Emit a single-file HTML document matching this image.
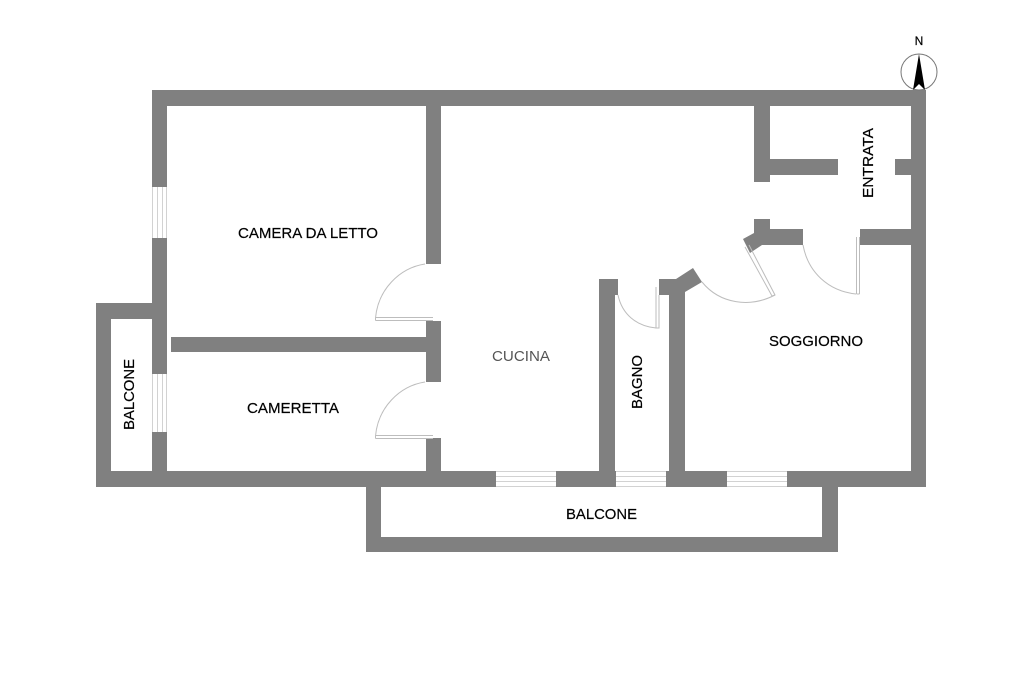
<!DOCTYPE html>
<html><head><meta charset="utf-8"><style>
html,body{margin:0;padding:0;background:#fff}
svg{display:block;filter:blur(0.35px)}
text{font-family:"Liberation Sans",sans-serif;fill:#000;font-size:15px;stroke:#000;stroke-width:.2px}
</style></head><body>
<svg width="1024" height="682" viewBox="0 0 1024 682" xmlns="http://www.w3.org/2000/svg">
<rect width="1024" height="682" fill="#fff"/>
<g fill="#808080">
<rect x="152" y="90" width="774" height="16"/>
<rect x="911" y="90" width="15" height="397"/>
<rect x="152" y="90" width="15" height="97"/>
<rect x="152" y="238" width="15" height="136"/>
<rect x="152" y="432" width="15" height="55"/>
<rect x="96" y="303" width="15" height="184"/>
<rect x="96" y="303" width="71" height="16"/>
<rect x="96" y="471" width="400" height="16"/>
<rect x="556" y="471" width="60" height="16"/>
<rect x="666" y="471" width="61" height="16"/>
<rect x="787" y="471" width="139" height="16"/>
<rect x="426" y="90" width="15" height="174"/>
<rect x="426" y="321" width="15" height="61"/>
<rect x="426" y="438" width="15" height="40"/>
<rect x="171" y="337" width="256" height="15"/>
<rect x="754" y="100" width="16" height="82"/>
<rect x="754" y="159" width="84" height="16"/>
<rect x="895" y="159" width="20" height="16"/>
<rect x="860" y="229" width="55" height="16"/>
<polygon points="599,279 618,279 618,295 615,295 615,475 599,475"/>
<polygon points="659,279 676,279 693,268 702,282 685,292 685,475 669,475 669,295 659,295"/>
<polygon points="754,219 770,219 770,229 803,229 803,245 762,245 750,253 743,239 754,233"/>
<rect x="366" y="485" width="15" height="67"/>
<rect x="822" y="485" width="16" height="67"/>
<rect x="366" y="537" width="472" height="15"/>
</g>
<g fill="none" stroke="#d2d2d2" stroke-width="1">
<path d="M157.500 187V238M162.500 187V238M152.500 187V238M166.500 187V238"/>
<path d="M157.500 374V432M162.500 374V432M152.500 374V432M166.500 374V432"/>
<path d="M496 471.500H556M496 476.500H556M496 481.500H556M496 486.500H556"/>
<path d="M616 471.500H666M616 476.500H666M616 481.500H666M616 486.500H666"/>
<path d="M727 471.500H787M727 476.500H787M727 481.500H787M727 486.500H787"/>
</g>
<g fill="none" stroke="#bdbdbd" stroke-width="1">
<path d="M375.500 317.500H433M375.500 320.500H433M375.500 317.500V320.500"/>
<path d="M375.500 318C378 290 399 268 425 264"/>
<path d="M375.500 435.500H433M375.500 438.500H433M375.500 435.500V438.500"/>
<path d="M375.500 436C378 408 399 386 425 382"/>
<path d="M745 247L772 296L775 295L749 245"/>
<path d="M702 282C720 304 750 308 775 295"/>
<path d="M856.500 237V294M859.500 237V294M856.500 294H859.500"/>
<path d="M803 245C808 272 828 291 856 294"/>
<path d="M656 287V328H659V295"/>
<path d="M618 295C622 314 636 326 656 328"/>
</g>
<circle cx="919" cy="72" r="18" fill="#fff" stroke="#777" stroke-width="1"/>
<polygon points="919,54 922,72 925,90 919,84 913,90 916,72" fill="#000"/>
<text x="919" y="45" text-anchor="middle" style="font-size:12px">N</text>
<text x="238" y="238" textLength="140" lengthAdjust="spacingAndGlyphs">CAMERA DA LETTO</text>
<text x="247" y="413" textLength="92" lengthAdjust="spacingAndGlyphs">CAMERETTA</text>
<text x="492" y="361" textLength="58" lengthAdjust="spacingAndGlyphs" style="fill:#555;stroke:none">CUCINA</text>
<text x="769" y="346" textLength="94" lengthAdjust="spacingAndGlyphs">SOGGIORNO</text>
<text x="566" y="519" textLength="71" lengthAdjust="spacingAndGlyphs">BALCONE</text>
<text transform="translate(134,430) rotate(-90)" textLength="71" lengthAdjust="spacingAndGlyphs">BALCONE</text>
<text transform="translate(642,409) rotate(-90)" textLength="54" lengthAdjust="spacingAndGlyphs">BAGNO</text>
<text transform="translate(873,198) rotate(-90)" textLength="70" lengthAdjust="spacingAndGlyphs">ENTRATA</text>
</svg>
</body></html>
